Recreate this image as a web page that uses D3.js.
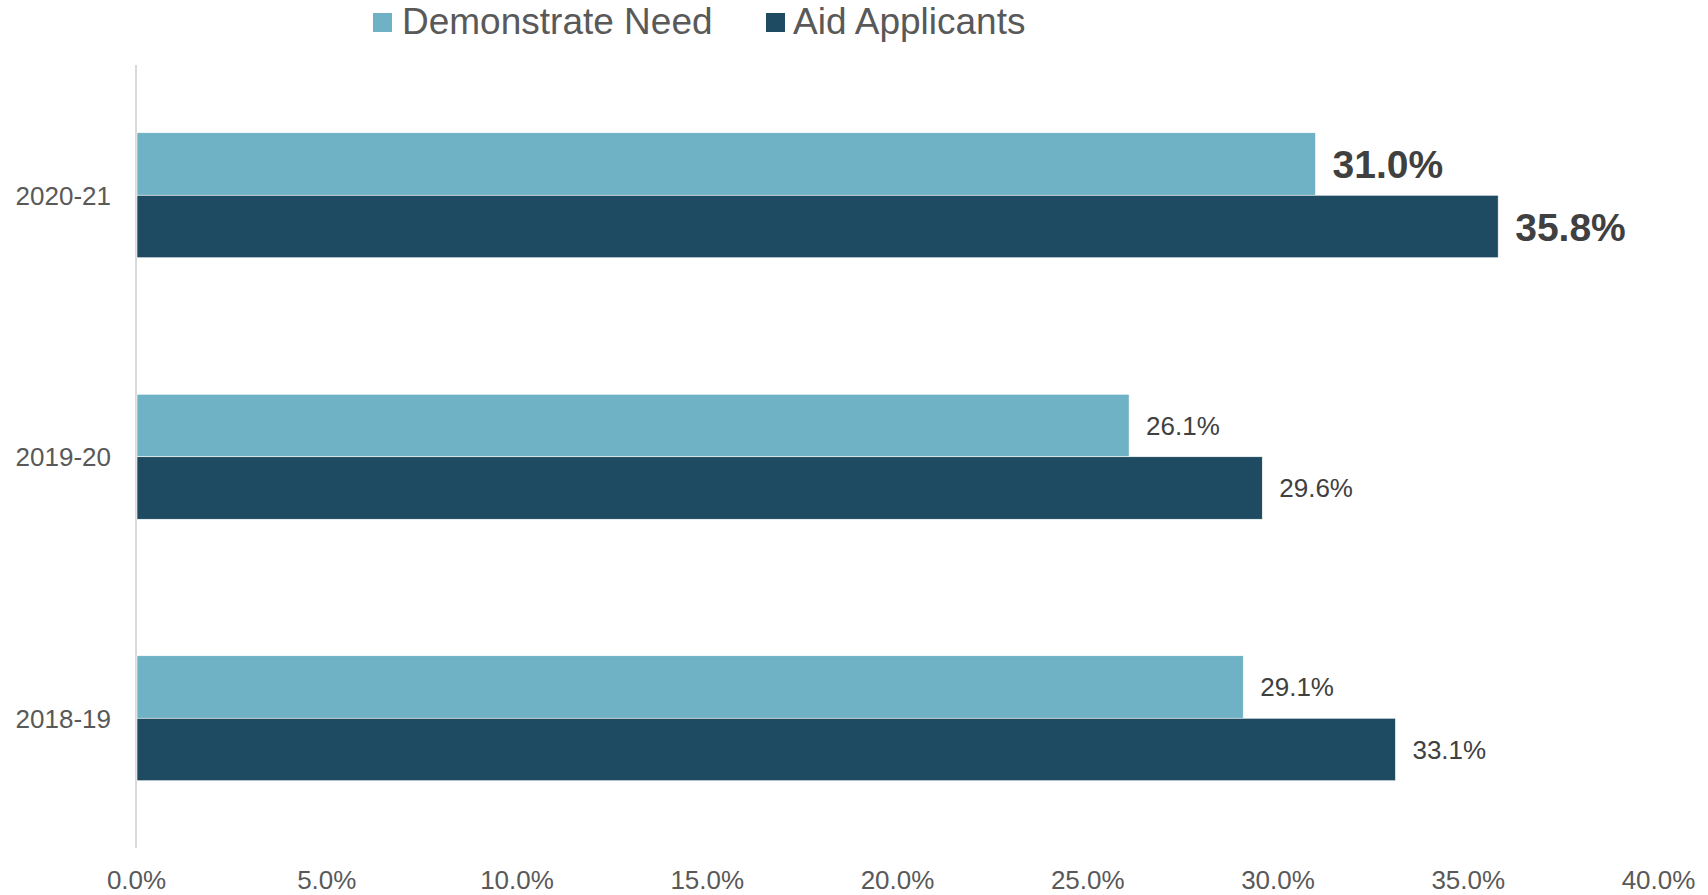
<!DOCTYPE html>
<html>
<head>
<meta charset="utf-8">
<script src="https://cdn.jsdelivr.net/npm/d3@7"></script>
<style>
  html, body { margin: 0; padding: 0; background: #fff; }
  svg { display: block; font-family: "Liberation Sans", Arial, Helvetica, sans-serif; }
</style>
</head>
<body>
<svg id="chart" width="1708" height="895"></svg>
<script>
const categories = ["2020-21", "2019-20", "2018-19"];
const seriesNames = ["Demonstrate Need", "Aid Applicants"];
const demonstrateNeed = [31.0, 26.1, 29.1];
const aidApplicants = [35.8, 29.6, 33.1];
const xTicks = [0, 5, 10, 15, 20, 25, 30, 35, 40];
const highlightCategory = "2020-21";

const colors = ["#6fb1c5", "#1f4b62"];
const svg = d3.select("#chart");

const x = d3.scaleLinear().domain([0, 40]).range([136, 1658]);
const pi = 1 - 125 / 261.5;
const y = d3.scaleBand().domain(categories).range([64.5, 849])
  .paddingInner(pi).paddingOuter(pi / 2);
const ySub = d3.scaleBand().domain(seriesNames).range([0, y.bandwidth()]);

const rows = categories.map((c, i) => ({
  cat: c,
  vals: [
    { s: seriesNames[0], v: demonstrateNeed[i] },
    { s: seriesNames[1], v: aidApplicants[i] }
  ]
}));

// vertical axis line
svg.append("line")
  .attr("x1", x(0)).attr("x2", x(0))
  .attr("y1", 65).attr("y2", 848)
  .attr("stroke", "#d9d9d9").attr("stroke-width", 2);

// bars
const g = svg.append("g");
const groups = g.selectAll("g.cat").data(rows).join("g")
  .attr("class", "cat")
  .attr("transform", d => `translate(0,${y(d.cat)})`);

groups.selectAll("rect").data(d => d.vals).join("rect")
  .attr("x", x(0) + 1)
  .attr("y", d => ySub(d.s))
  .attr("width", d => x(d.v) - x(0) - 1)
  .attr("height", ySub.bandwidth())
  .attr("fill", (d, i) => colors[i])
  .attr("stroke", "#ffffff")
  .attr("stroke-width", 0.6);

// value labels
groups.each(function(row) {
  const bold = row.cat === highlightCategory;
  d3.select(this).selectAll("text.val").data(row.vals).join("text")
    .attr("class", "val")
    .attr("x", d => x(d.v) + 17)
    .attr("y", d => ySub(d.s) + ySub.bandwidth() / 2)
    .attr("dy", "0.36em")
    .attr("fill", "#404040")
    .attr("font-size", bold ? 39 : 26)
    .attr("font-weight", bold ? "bold" : "normal")
    .text(d => d.v.toFixed(1) + "%");
});

// category labels
svg.append("g").selectAll("text").data(categories).join("text")
  .attr("x", 111)
  .attr("y", d => y(d) + y.bandwidth() / 2)
  .attr("dy", "0.36em")
  .attr("text-anchor", "end")
  .attr("fill", "#595959")
  .attr("font-size", 26)
  .text(d => d);

// x-axis tick labels
const xAxis = d3.axisBottom(x).tickValues(xTicks)
  .tickFormat(d => d.toFixed(1) + "%").tickSize(0).tickPadding(0);
const xg = svg.append("g").attr("transform", "translate(0,870)").call(xAxis);
xg.select(".domain").remove();
xg.selectAll("text")
  .attr("font-family", "\"Liberation Sans\", Arial, sans-serif")
  .attr("font-size", 26).attr("fill", "#595959")
  .attr("dy", "0.72em");

// legend
const legend = [
  { name: seriesNames[0], sx: 373, tx: 402 },
  { name: seriesNames[1], sx: 766, tx: 793 }
];
const lg = svg.append("g");
legend.forEach((l, i) => {
  lg.append("rect").attr("x", l.sx).attr("y", 13).attr("width", 19).attr("height", 19)
    .attr("fill", colors[i]);
  lg.append("text")
    .attr("x", l.tx).attr("y", 34)
    .attr("fill", "#595959").attr("font-size", 37)
    .text(l.name);
});
</script>
</body>
</html>
